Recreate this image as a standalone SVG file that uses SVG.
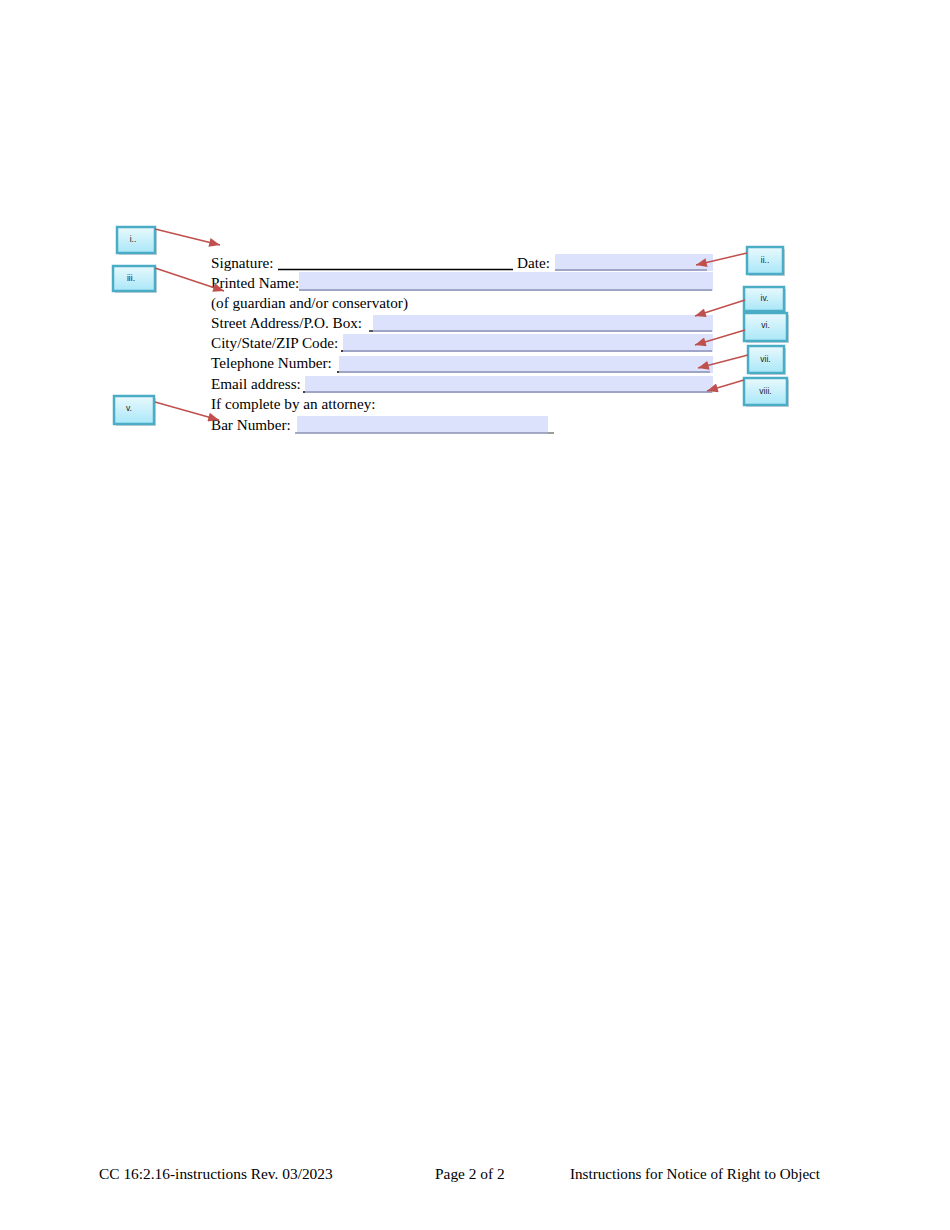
<svg xmlns="http://www.w3.org/2000/svg" width="950" height="1230" viewBox="0 0 950 1230">
<defs>
<linearGradient id="boxfill" x1="0" y1="0" x2="0" y2="1">
<stop offset="0" stop-color="#e9f9fd"/>
<stop offset="1" stop-color="#a9e7f8"/>
</linearGradient>
<marker id="ah2" viewBox="0 0 12 10" refX="12" refY="5" markerWidth="12" markerHeight="9" markerUnits="userSpaceOnUse" orient="auto">
<path d="M0,0 L12,5 L0,10 z" fill="#c0504d"/>
</marker>
</defs>
<style>
.lbl{font-family:"Liberation Serif","Times New Roman",serif;font-size:15.2px;fill:#000}
.ft{font-family:"Liberation Serif","Times New Roman",serif;font-size:15.4px;fill:#000}
.fld{fill:#dce2fc}
.ul{stroke:#8a90b4;stroke-width:1.3}
.blk{stroke:#000;stroke-width:1.3}
.box{fill:url(#boxfill);stroke:#4bacc6;stroke-width:2.5}
.sh{fill:#b5b5b5;opacity:0.6}
.bt{font-family:"Liberation Sans",Arial,sans-serif;font-size:8.5px;fill:#222;text-anchor:middle}
.arr{stroke:#c0504d;stroke-width:1.5;fill:none;marker-end:url(#ah2)}
</style>
<rect width="950" height="1230" fill="#fff"/>

<g id="form">
<text class="lbl" x="211" y="268">Signature:</text>
<line class="blk" x1="278" y1="269.5" x2="513" y2="269.5"/>
<text class="lbl" x="517" y="268">Date:</text>
<rect class="fld" x="555" y="254" width="158" height="17"/>
<line class="ul" x1="555" y1="270" x2="707" y2="270"/>

<text class="lbl" x="211" y="288">Printed Name:</text>
<rect class="fld" x="299" y="272" width="414" height="19"/>
<line class="ul" x1="299" y1="290" x2="712" y2="290"/>

<text class="lbl" x="211" y="308">(of guardian and/or conservator)</text>

<text class="lbl" x="211" y="328">Street Address/P.O. Box:</text>
<line class="blk" x1="369" y1="331" x2="373" y2="331"/>
<rect class="fld" x="373" y="315" width="340" height="17"/>
<line class="ul" x1="373" y1="331" x2="712" y2="331"/>

<text class="lbl" x="211" y="348">City/State/ZIP Code:</text>
<line class="blk" x1="341" y1="351" x2="343" y2="351"/>
<rect class="fld" x="343" y="334" width="370" height="18"/>
<line class="ul" x1="343" y1="351" x2="712" y2="351"/>

<text class="lbl" x="211" y="368">Telephone Number:</text>
<line class="blk" x1="337" y1="372" x2="339" y2="372"/>
<rect class="fld" x="339" y="356" width="374" height="17"/>
<line class="ul" x1="339" y1="372" x2="710" y2="372"/>

<text class="lbl" x="211" y="389">Email address:</text>
<line class="blk" x1="303" y1="392" x2="305" y2="392"/>
<rect class="fld" x="305" y="376" width="408" height="17"/>
<line class="ul" x1="305" y1="392" x2="712" y2="392"/>

<text class="lbl" x="211" y="409">If complete by an attorney:</text>

<text class="lbl" x="211" y="430">Bar Number:</text>
<rect class="fld" x="297" y="416" width="251" height="17"/>
<line class="ul" x1="295" y1="433" x2="548" y2="433"/>
<line x1="548" y1="433" x2="554" y2="433" stroke="#666" stroke-width="1.3"/>
</g>

<g id="callout-i">
<rect class="sh" x="119" y="229" width="38" height="26"/>
<rect class="box" x="117" y="227" width="38" height="26"/>
<text class="bt" x="133" y="242">i..</text>
</g>
<g id="callout-iii">
<rect class="sh" x="115" y="268" width="42" height="25"/>
<rect class="box" x="113" y="266" width="42" height="25"/>
<text class="bt" x="131" y="281">iii.</text>
</g>
<g id="callout-v">
<rect class="sh" x="116" y="398" width="40" height="28"/>
<rect class="box" x="114" y="396" width="40" height="28"/>
<text class="bt" x="129" y="411">v.</text>
</g>
<g id="callout-ii">
<rect class="sh" x="749" y="249" width="36" height="27"/>
<rect class="box" x="747" y="247" width="36" height="27"/>
<text class="bt" x="765" y="263">ii..</text>
</g>
<g id="callout-iv">
<rect class="sh" x="746" y="289" width="40" height="24"/>
<rect class="box" x="744" y="287" width="40" height="24"/>
<text class="bt" x="764.5" y="301">iv.</text>
</g>
<g id="callout-vi">
<rect class="sh" x="746" y="315" width="43" height="28"/>
<rect class="box" x="744" y="313" width="43" height="28"/>
<text class="bt" x="765.5" y="328">vi.</text>
</g>
<g id="callout-vii">
<rect class="sh" x="750" y="348" width="36" height="27"/>
<rect class="box" x="748" y="346" width="36" height="27"/>
<text class="bt" x="765.5" y="362">vii.</text>
</g>
<g id="callout-viii">
<rect class="sh" x="746" y="380" width="43" height="27"/>
<rect class="box" x="744" y="378" width="43" height="27"/>
<text class="bt" x="765.5" y="394">viii.</text>
</g>

<g id="connectors">
<line class="arr" x1="155" y1="229" x2="220" y2="245"/>
<line class="arr" x1="155" y1="268" x2="224" y2="291"/>
<line class="arr" x1="155" y1="402" x2="219" y2="420"/>
<line class="arr" x1="747" y1="253" x2="696" y2="265"/>
<line class="arr" x1="745" y1="300" x2="695" y2="316"/>
<line class="arr" x1="745" y1="330" x2="695" y2="345"/>
<line class="arr" x1="748" y1="355" x2="698" y2="368"/>
<line class="arr" x1="744" y1="380" x2="707" y2="391"/>
</g>

<g id="footer">
<text class="ft" x="99" y="1179">CC 16:2.16-instructions Rev. 03/2023</text>
<text class="ft" x="435" y="1179">Page 2 of 2</text>
<text class="ft" x="570" y="1179" textLength="250" lengthAdjust="spacingAndGlyphs">Instructions for Notice of Right to Object</text>
</g>
</svg>
